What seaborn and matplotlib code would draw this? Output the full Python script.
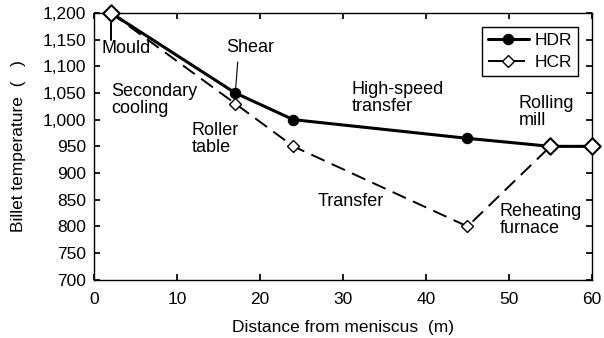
import matplotlib
matplotlib.use("Agg")
import matplotlib.pyplot as plt
import seaborn as sns
import pandas as pd

distance = [2, 17, 24, 45, 55, 60]
hdr_temp = [1200, 1050, 1000, 965, 950, 950]
hcr_temp = [1200, 1030, 950, 800, 950, 950]
x_ticks = [0, 10, 20, 30, 40, 50, 60]
y_ticks = list(range(700, 1201, 50))

sns.set_theme(style="ticks")
plt.rcParams['font.family'] = ['Liberation Sans', 'DejaVu Sans']
plt.rcParams['text.color'] = 'black'
plt.rcParams['axes.labelcolor'] = 'black'

hdr = pd.DataFrame({"d": distance, "t": hdr_temp})
hcr = pd.DataFrame({"d": distance, "t": hcr_temp})

fig, ax = plt.subplots(figsize=(6.04, 3.38), dpi=100)
fig.subplots_adjust(left=0.156, right=0.980, top=0.962, bottom=0.172)

sns.lineplot(data=hdr, x="d", y="t", ax=ax, color="black",
             lw=2.2, marker="o", markersize=7.5, markeredgecolor="black",
             markerfacecolor="black", markevery=[1, 2, 3], label="HDR", zorder=3,
             clip_on=False)
sns.lineplot(data=hcr, x="d", y="t", ax=ax, color="black",
             lw=1.4, marker="D", markersize=6,
             markeredgecolor="black", markerfacecolor="white",
             markeredgewidth=1.0, label="HCR", zorder=4, clip_on=False)
ax.lines[1].set_linestyle((0, (7.5, 4)))
# end points of HDR drawn as larger open diamonds
ends = hdr.iloc[[0, 4, 5]]
sns.scatterplot(data=ends, x="d", y="t", ax=ax, marker="D", s=70,
                facecolor="white", edgecolor="black", linewidth=1.5,
                zorder=5, legend=False, clip_on=False)

ax.set_xlim(0, 60)
ax.set_ylim(700, 1200)
ax.set_xticks(x_ticks)
ax.set_yticks(y_ticks)
ax.set_yticklabels([f"{v:,}" for v in y_ticks])
ax.tick_params(direction="in", top=True, right=True, labelsize=12.5, length=4,
               color="black", labelcolor="black", pad=6)
ax.tick_params(axis="x", pad=9)
for sp in ax.spines.values():
    sp.set_color("black")
    sp.set_linewidth(1.0)
ax.set_xlabel("Distance from meniscus  (m)", fontsize=12.5, color="black", labelpad=9)
ax.set_ylabel("Billet temperature  (   )", fontsize=12.5, color="black", labelpad=12)

fs = 13
ax.text(3.86, 1133, "Mould", ha="center", va="center", fontsize=fs)
ax.plot([2, 2], [1200, 1149], color="black", lw=1.4, zorder=2)
ax.text(2.1, 1037, "Secondary\ncooling", ha="left", va="center", fontsize=fs, linespacing=1.0)
ax.text(18.8, 1136, "Shear", ha="center", va="center", fontsize=fs)
ax.plot([17.3, 17.05], [1108, 1058], color="black", lw=0.8)
ax.text(11.7, 964, "Roller\ntable", ha="left", va="center", fontsize=fs, linespacing=1.0)
ax.text(31.05, 1041, "High-speed\ntransfer", ha="left", va="center", fontsize=fs, linespacing=1.0)
ax.text(30.9, 846, "Transfer", ha="center", va="center", fontsize=fs)
ax.text(51.2, 1015, "Rolling\nmill", ha="left", va="center", fontsize=fs, linespacing=1.0)
ax.text(48.9, 812, "Reheating\nfurnace", ha="left", va="center", fontsize=fs, linespacing=1.0)

leg = ax.legend(loc="upper right", fontsize=12.5, frameon=True, fancybox=False,
                edgecolor="black", framealpha=1, handlelength=2.4,
                handletextpad=0.3, borderpad=0.35, labelspacing=0.4,
                borderaxespad=0.8)
leg.get_frame().set_linewidth(1.0)

fig.savefig("out.png", dpi=100)
